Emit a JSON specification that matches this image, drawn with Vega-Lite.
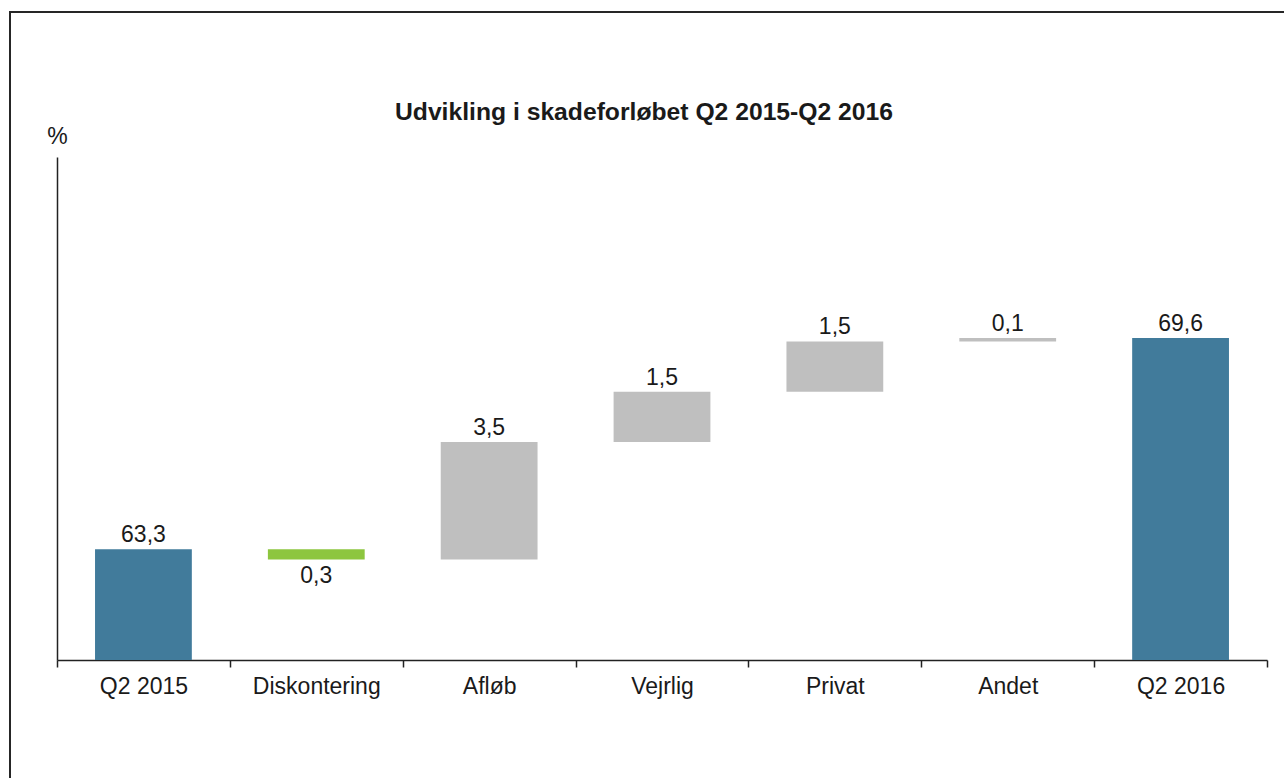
{
  "$schema": "https://vega.github.io/schema/vega-lite/v6.json",
  "width": 1280,
  "height": 772,
  "autosize": {"type": "none"},
  "padding": {"left": 10, "top": 12, "right": 0, "bottom": 0},
  "background": "white",
  "title": {
    "text": "Udvikling i skadeforløbet Q2 2015-Q2 2016",
    "font": "Liberation Sans",
    "fontSize": 24.7,
    "fontWeight": "bold",
    "color": "#1a1a1a",
    "anchor": "middle",
    "orient": "top",
    "offset": 0,
    "baseline": "alphabetic",
    "dx": -6,
    "dy": 133
  },
  "data": {
    "values": [
      {"kategori": "Q2 2015", "start": 0, "end": 63.3, "value": 63.3, "type": "total"},
      {"kategori": "Diskontering", "start": 63.3, "end": 63.0, "value": 0.3, "type": "down"},
      {"kategori": "Afløb", "start": 63.0, "end": 66.5, "value": 3.5, "type": "up"},
      {"kategori": "Vejrlig", "start": 66.5, "end": 68.0, "value": 1.5, "type": "up"},
      {"kategori": "Privat", "start": 68.0, "end": 69.5, "value": 1.5, "type": "up"},
      {"kategori": "Andet", "start": 69.5, "end": 69.6, "value": 0.1, "type": "up"},
      {"kategori": "Q2 2016", "start": 0, "end": 69.6, "value": 69.6, "type": "total"}
    ]
  },
  "encoding": {
    "x": {
      "field": "kategori",
      "type": "nominal",
      "sort": null,
      "scale": {"range": [47, 1257], "paddingInner": 0, "paddingOuter": 0},
      "axis": {
        "title": null,
        "labelAngle": 0,
        "labelFont": "Liberation Sans",
        "labelFontSize": 23,
        "labelColor": "#1a1a1a",
        "labelPadding": 8,
        "tickBand": "extent",
        "tickSize": 7,
        "tickColor": "#222222",
        "tickWidth": 1.5,
        "domainColor": "#222222",
        "domainWidth": 1.5,
        "offset": -124,
        "grid": false
      }
    },
    "y": {
      "field": "end",
      "type": "quantitative",
      "title": "%",
      "scale": {"domain": [60, 75], "range": [648, 145], "clamp": true, "nice": false, "zero": false},
      "axis": {
        "title": "%",
        "titleAngle": 0,
        "titleX": 0,
        "titleY": 131,
        "titleAlign": "center",
        "titleBaseline": "alphabetic",
        "titleFont": "Liberation Sans",
        "titleFontSize": 23,
        "titleFontWeight": "normal",
        "titleColor": "#1a1a1a",
        "labels": false,
        "ticks": false,
        "grid": false,
        "domainColor": "#222222",
        "domainWidth": 1.5,
        "offset": -47
      }
    }
  },
  "layer": [
    {
      "mark": {"type": "bar", "width": {"band": 0.56}},
      "encoding": {
        "y2": {"field": "start"},
        "color": {
          "field": "type",
          "type": "nominal",
          "scale": {"domain": ["total", "up", "down"], "range": ["#417b9b", "#bfbfbf", "#8dc63f"]},
          "legend": null
        }
      }
    },
    {
      "transform": [{"filter": "datum.type !== 'down'"}],
      "mark": {"type": "text", "baseline": "alphabetic", "dy": -7, "font": "Liberation Sans", "fontSize": 23, "color": "#1a1a1a"},
      "encoding": {
        "text": {"field": "value", "type": "quantitative", "format": ".1f"}
      }
    },
    {
      "transform": [{"filter": "datum.type === 'down'"}],
      "mark": {"type": "text", "baseline": "alphabetic", "dy": 24, "font": "Liberation Sans", "fontSize": 23, "color": "#1a1a1a"},
      "encoding": {
        "text": {"field": "value", "type": "quantitative", "format": ".1f"}
      }
    }
  ],
  "config": {
    "view": {"stroke": "#262626", "strokeWidth": 2},
    "locale": {
      "number": {"decimal": ",", "thousands": ".", "grouping": [3], "currency": ["", " kr."]}
    }
  }
}
